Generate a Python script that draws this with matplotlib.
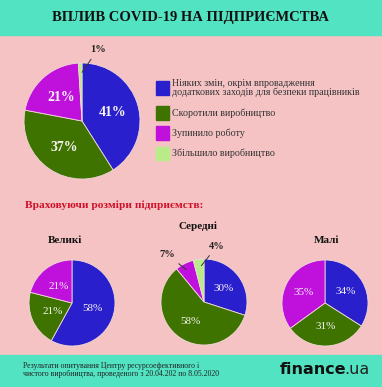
import matplotlib.pyplot as plt
from matplotlib.patches import Rectangle
import numpy as np

W, H = 382, 387

# data
main_labels = ['Ніяких змін, окрім впровадження\nдодаткових заходів для безпеки працівників',
               'Скоротили виробництво', 'Зупинило роботу', 'Збільшило виробництво']
main_vals = [41, 37, 21, 1]
colors = ['#2a1fcc', '#3f7300', '#c010dc', '#b8ec88']

sizes = ['Великі', 'Середні', 'Малі']
big_vals = [58, 21, 21]
mid_vals = [30, 59, 7, 4]
small_vals = [34, 31, 35]

BG = '#f5c3c3'
TEAL = '#52e3c2'
SERIF = 'Liberation Serif'

fig = plt.figure(figsize=(W / 100, H / 100), dpi=100, facecolor=BG)

# teal bands
fig.patches.append(Rectangle((0, 1 - 35 / H), 1, 35 / H, transform=fig.transFigure, color=TEAL, zorder=0))
fig.patches.append(Rectangle((0, 0), 1, 32 / H, transform=fig.transFigure, color=TEAL, zorder=0))


def px(x, y):
    return x / W, 1 - y / H


def pie_ax(cx, cy, r):
    return fig.add_axes([(cx - r) / W, 1 - (cy + r) / H, 2 * r / W, 2 * r / H])


def draw_pie(ax, vals, cols, pd_, fs, bold, hide_small=5):
    wedges, _, autot = ax.pie(vals, colors=cols, startangle=90, counterclock=False,
                              autopct='%d%%', pctdistance=pd_,
                              wedgeprops=dict(edgecolor='#f0d8d8', linewidth=0.6),
                              textprops=dict(color='#f4f4f4', fontsize=fs, family=SERIF,
                                             fontweight='bold' if bold else 'normal'))
    for v, t in zip(vals, autot):
        if v < hide_small:
            t.set_visible(False)
    ax.set_xlim(-1, 1)
    ax.set_ylim(-1, 1)
    ax.set_aspect('equal')
    ax.axis('off')
    return wedges


def outside_label(ax, wedge, text, xt, yt):
    ang = np.deg2rad((wedge.theta1 + wedge.theta2) / 2)
    x0, y0 = 0.8 * np.cos(ang), 0.8 * np.sin(ang)
    ax.annotate(text, xy=(x0, y0), xytext=(xt, yt), fontsize=7.5, family=SERIF,
                fontweight='bold', color='#222222', ha='center', va='center',
                annotation_clip=False,
                arrowprops=dict(arrowstyle='-', color='#333333', lw=0.7))


fig.text(*px(191, 18), 'ВПЛИВ COVID-19 НА ПІДПРИЄМСТВА', ha='center', va='center',
         fontsize=10.5, fontweight='bold', family=SERIF, color='#111111')

# main pie
ax = pie_ax(82, 121, 58)
w = draw_pie(ax, main_vals, colors, 0.55, 10, True, hide_small=2)
outside_label(ax, w[3], '1%', 0.27, 1.23)

# legend
ly = [88, 113, 133, 153]
for lab, c, y in zip(main_labels, colors, ly):
    fig.patches.append(Rectangle(px(156, y + 6.5), 13 / W, 13 / H, transform=fig.transFigure,
                                 color=c, zorder=2))
    fig.text(*px(172, y), lab, ha='left', va='center', fontsize=7.2, family=SERIF,
             color='#333333', linespacing=1.05)

fig.text(*px(25, 205), 'Враховуючи розміри підприємств:', ha='left', va='center',
         fontsize=8.2, fontweight='bold', family=SERIF, color='#d0102a')

# small pies
ax1 = pie_ax(72, 303, 43)
draw_pie(ax1, big_vals, colors[:3], 0.5, 8, False)
ax2 = pie_ax(204, 302, 43)
w2 = draw_pie(ax2, mid_vals, colors, 0.55, 8, False, hide_small=10)
outside_label(ax2, w2[2], '7%', -0.85, 1.1)
outside_label(ax2, w2[3], '4%', 0.3, 1.3)
ax3 = pie_ax(325, 303, 43)
draw_pie(ax3, small_vals, colors[:3], 0.55, 8, False)

for name, (x, y) in zip(sizes, [(65, 241), (198, 226), (327, 241)]):
    fig.text(*px(x, y), name, ha='center', va='center', fontsize=8, fontweight='bold',
             family=SERIF, color='#111111')

fig.text(*px(23, 370), 'Результати опитування Центру ресурсоефективного і\n'
         'чистого виробництва, проведеного з 20.04.202 по 8.05.2020',
         ha='left', va='center', fontsize=5.6, family=SERIF, color='#222222', linespacing=1.0)

# logo: "finance" bold + ".ua" regular, placed right after
t1 = fig.text(*px(280, 370), 'finance', ha='left', va='center', fontsize=11.5, fontweight='bold',
              family='DejaVu Sans', color='#111111')
fig.canvas.draw()
bb = t1.get_window_extent()
fig.text((bb.x1 - 2) / W, px(0, 370)[1], '.ua', ha='left', va='center', fontsize=11.5,
         family='DejaVu Sans', color='#222222')

fig.savefig('out.png', dpi=100, facecolor=BG)
